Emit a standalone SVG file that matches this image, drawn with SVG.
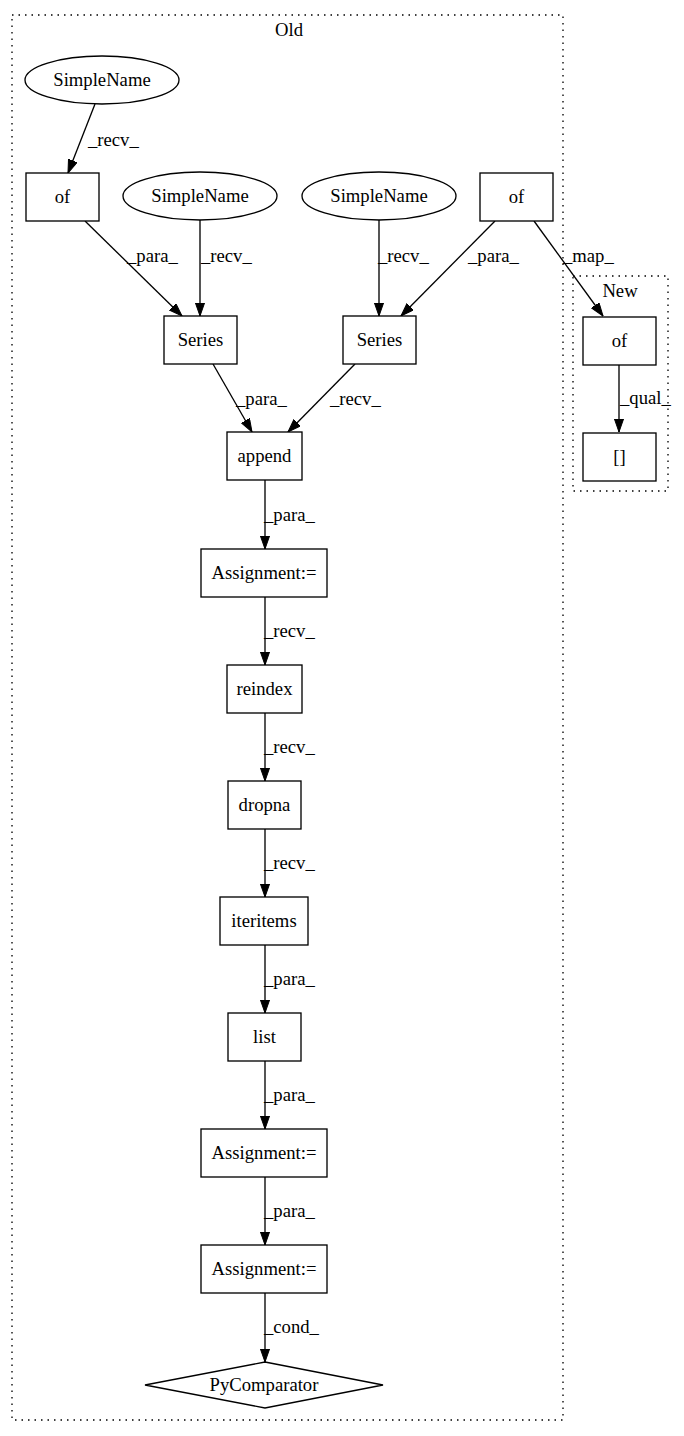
<svg xmlns="http://www.w3.org/2000/svg" width="684" height="1436" viewBox="0 0 684 1436">
<style>
text{font-family:"Liberation Serif","Times New Roman",serif;font-size:18.67px;fill:#000}
.n{text-anchor:middle}
.shape{fill:#fff;stroke:#000;stroke-width:1.33}
.cl{fill:none;stroke:#000;stroke-width:1.33;stroke-dasharray:1.5,5}
.e{fill:none;stroke:#000;stroke-width:1.33;marker-end:url(#arr)}
</style>
<defs>
<marker id="arr" markerUnits="userSpaceOnUse" markerWidth="14" markerHeight="10" refX="13.3" refY="4.67" orient="auto">
<path d="M0,0 L13.3,4.67 L0,9.33 Z" fill="#000" stroke="#000" stroke-width="1"/>
</marker>
</defs>
<rect width="684" height="1436" fill="#fff"/>
<g id="cluster-old"><rect class="cl" x="12" y="15" width="551" height="1405"/><text class="n" x="289" y="36">Old</text></g>
<g id="cluster-new"><rect class="cl" x="573" y="276" width="95" height="215"/><text class="n" x="620" y="297">New</text></g>
<g id="connectors">
<line class="e" x1="95" y1="104" x2="68" y2="173"/><text x="88" y="146">_recv_</text>
<line class="e" x1="85" y1="221" x2="182" y2="316"/><text x="127" y="262">_para_</text>
<line class="e" x1="200" y1="220" x2="200" y2="316"/><text x="201" y="262">_recv_</text>
<line class="e" x1="379" y1="220" x2="379" y2="316"/><text x="378" y="262">_recv_</text>
<line class="e" x1="495" y1="221" x2="401" y2="316"/><text x="468" y="262">_para_</text>
<line class="e" x1="534" y1="221" x2="603" y2="316"/><text x="563" y="262">_map_</text>
<line class="e" x1="213" y1="364" x2="252" y2="432"/><text x="236" y="405">_para_</text>
<line class="e" x1="355" y1="364" x2="288" y2="432"/><text x="330" y="405">_recv_</text>
<line class="e" x1="265" y1="480" x2="265" y2="549"/><text x="264" y="521">_para_</text>
<line class="e" x1="265" y1="597" x2="265" y2="665"/><text x="264" y="637">_recv_</text>
<line class="e" x1="265" y1="713" x2="265" y2="781"/><text x="264" y="753">_recv_</text>
<line class="e" x1="265" y1="829" x2="265" y2="897"/><text x="264" y="869">_recv_</text>
<line class="e" x1="265" y1="945" x2="265" y2="1013"/><text x="264" y="985">_para_</text>
<line class="e" x1="265" y1="1061" x2="265" y2="1129"/><text x="264" y="1101">_para_</text>
<line class="e" x1="265" y1="1177" x2="265" y2="1245"/><text x="264" y="1217">_para_</text>
<line class="e" x1="265" y1="1293" x2="265" y2="1362"/><text x="264" y="1333">_cond_</text>
<line class="e" x1="619" y1="365" x2="619" y2="432"/><text x="620" y="404">_qual_</text>
</g>
<g id="simplename1"><ellipse class="shape" cx="102" cy="80" rx="77" ry="24"/><text class="n" x="102" y="86">SimpleName</text></g>
<g id="of1"><rect class="shape" x="26" y="173" width="73" height="48"/><text class="n" x="62.5" y="203">of</text></g>
<g id="simplename2"><ellipse class="shape" cx="200" cy="196" rx="77" ry="24"/><text class="n" x="200" y="202">SimpleName</text></g>
<g id="simplename3"><ellipse class="shape" cx="379" cy="196" rx="77" ry="24"/><text class="n" x="379" y="202">SimpleName</text></g>
<g id="of2"><rect class="shape" x="480" y="173" width="73" height="48"/><text class="n" x="516.5" y="203">of</text></g>
<g id="series1"><rect class="shape" x="164" y="316" width="73" height="48"/><text class="n" x="200.5" y="346">Series</text></g>
<g id="series2"><rect class="shape" x="343" y="316" width="73" height="48"/><text class="n" x="379.5" y="346">Series</text></g>
<g id="append"><rect class="shape" x="227" y="432" width="75" height="48"/><text class="n" x="264.5" y="462">append</text></g>
<g id="assign1"><rect class="shape" x="201" y="549" width="126" height="48"/><text class="n" x="264" y="579">Assignment:=</text></g>
<g id="reindex"><rect class="shape" x="227" y="665" width="75" height="48"/><text class="n" x="264.5" y="695">reindex</text></g>
<g id="dropna"><rect class="shape" x="228" y="781" width="73" height="48"/><text class="n" x="264.5" y="811">dropna</text></g>
<g id="iteritems"><rect class="shape" x="220" y="897" width="88" height="48"/><text class="n" x="264" y="927">iteritems</text></g>
<g id="list"><rect class="shape" x="228" y="1013" width="73" height="48"/><text class="n" x="264.5" y="1043">list</text></g>
<g id="assign2"><rect class="shape" x="201" y="1129" width="126" height="48"/><text class="n" x="264" y="1159">Assignment:=</text></g>
<g id="assign3"><rect class="shape" x="201" y="1245" width="126" height="48"/><text class="n" x="264" y="1275">Assignment:=</text></g>
<g id="pycomparator"><polygon class="shape" points="265,1362 383,1385 265,1408 145,1385"/><text class="n" x="264" y="1391">PyComparator</text></g>
<g id="new-of"><rect class="shape" x="583" y="317" width="73" height="48"/><text class="n" x="619.5" y="347">of</text></g>
<g id="new-index"><rect class="shape" x="583" y="433" width="73" height="48"/><text class="n" x="619.5" y="463">[]</text></g>
</svg>
